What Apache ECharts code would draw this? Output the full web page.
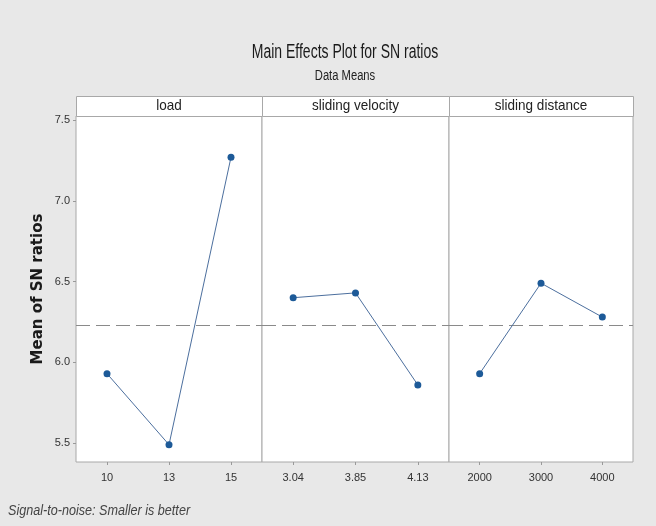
<!DOCTYPE html>
<html>
<head>
<meta charset="utf-8">
<style>
html,body{margin:0;padding:0;background:#e8e8e8;}
#chart{width:656px;height:526px;}
</style>
<script src="https://cdn.jsdelivr.net/npm/echarts@6/dist/echarts.min.js"></script>
</head>
<body>
<div id="chart"></div>
<script>
// ---- data ----
const panelNames = ['load', 'sliding velocity', 'sliding distance'];
const loadLevels = ['10', '13', '15'];
const loadValues = [5.93, 5.49, 7.27];
const velocityLevels = ['3.04', '3.85', '4.13'];
const velocityValues = [6.40, 6.43, 5.86];
const distanceLevels = ['2000', '3000', '4000'];
const distanceValues = [5.93, 6.49, 6.28];
const overallMean = 6.227;
const yTicks = [5.5, 6.0, 6.5, 7.0, 7.5];
const titleText = 'Main Effects Plot for SN ratios';
const subtitleText = 'Data Means';
const yAxisTitle = 'Mean of SN ratios';
const footnoteText = 'Signal-to-noise: Smaller is better';

const FONT = '"Liberation Sans",Arial,sans-serif';
const chart = echarts.init(document.getElementById('chart'), null, {renderer: 'canvas'});

const levelsList = [loadLevels, velocityLevels, distanceLevels];
const valuesList = [loadValues, velocityValues, distanceValues];

const plotTop = 116, plotH = 346;
const lefts = [76, 262, 449];
const widths = [186, 187, 184];
const headerTop = 96, headerH = 20;
const yMin = 5.383, yMax = 7.525;

const grids = [], xAxes = [], yAxes = [], series = [];
for (let i = 0; i < 3; i++) {
  grids.push({left: lefts[i], top: plotTop, width: widths[i], height: plotH,
    show: true, backgroundColor: '#ffffff', borderColor: '#a8a8a8', borderWidth: 1});
  xAxes.push({type: 'category', gridIndex: i, data: levelsList[i], boundaryGap: true,
    axisLine: {show: false},
    axisTick: {show: true, alignWithLabel: true, length: 3, lineStyle: {color: '#999'}},
    axisLabel: {color: '#333', fontSize: 11, fontFamily: FONT, margin: 10}});
  yAxes.push({type: 'value', gridIndex: i, min: yMin, max: yMax,
    splitLine: {show: false},
    axisLine: {show: false},
    axisTick: {show: i === 0, length: 3, lineStyle: {color: '#999'}, customValues: yTicks},
    axisLabel: {show: i === 0, color: '#333', fontSize: 11, fontFamily: FONT, margin: 6,
      customValues: yTicks, formatter: v => Number(v).toFixed(1)},
    name: i === 0 ? yAxisTitle : '',
    nameLocation: 'middle', nameGap: 30,
    nameTextStyle: {fontSize: 15, fontWeight: 'bold', color: '#1a1a1a', fontFamily: '"DejaVu Sans",sans-serif'}});
  series.push({type: 'line', xAxisIndex: i, yAxisIndex: i, data: valuesList[i],
    symbol: 'circle', symbolSize: 7,
    itemStyle: {color: '#1d5a98'},
    lineStyle: {color: '#4c6f9e', width: 1},
    z: 5,
    markLine: {silent: true, symbol: 'none', label: {show: false},
      lineStyle: {color: '#8a8a8a', type: [14, 6], width: 1},
      data: [{yAxis: overallMean}], z: 3}});
}

const graphics = [];
for (let i = 0; i < 3; i++) {
  graphics.push({type: 'rect', left: lefts[i], top: headerTop,
    shape: {width: widths[i], height: headerH},
    style: {fill: '#ffffff', stroke: '#a8a8a8', lineWidth: 1}});
  graphics.push({type: 'text', x: lefts[i] + widths[i] / 2, y: headerTop + headerH / 2,
    scaleX: 0.9,
    style: {text: panelNames[i], fill: '#222', font: '15px ' + FONT, textAlign: 'center', textVerticalAlign: 'middle'}});
}
graphics.push({type: 'text', x: 345, y: 52, scaleX: 0.7,
  style: {text: titleText, fill: '#1a1a1a', font: '20px ' + FONT, textAlign: 'center', textVerticalAlign: 'middle'}});
graphics.push({type: 'text', x: 345, y: 76, scaleX: 0.8,
  style: {text: subtitleText, fill: '#222', font: '14px ' + FONT, textAlign: 'center', textVerticalAlign: 'middle'}});
graphics.push({type: 'text', x: 8, y: 511, scaleX: 0.9,
  style: {text: footnoteText, fill: '#444', font: 'italic 14px ' + FONT, textAlign: 'left', textVerticalAlign: 'middle'}});

chart.setOption({
  backgroundColor: '#e8e8e8',
  animation: false,
  grid: grids, xAxis: xAxes, yAxis: yAxes, series: series,
  graphic: graphics
});
</script>
</body>
</html>
